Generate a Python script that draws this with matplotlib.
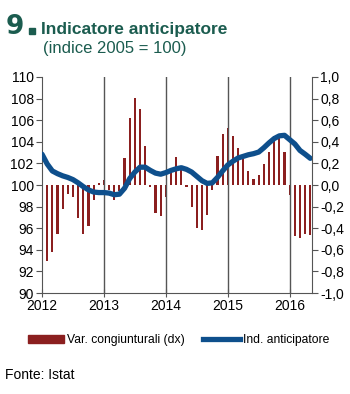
import matplotlib.pyplot as plt
import numpy as np
from matplotlib.patches import Patch, Rectangle
from matplotlib.lines import Line2D

plt.rcParams['font.family'] = ['Liberation Sans', 'DejaVu Sans']

# monthly data, Jan 2012 - Apr 2016
years = [2012, 2013, 2014, 2015, 2016]

# Var. congiunturali (dx), one bar per month
var_cong = [-0.70, -0.62, -0.45, -0.22, -0.08, -0.11, -0.31, -0.45, -0.38, -0.14, 0.02, 0.05,
            -0.05, -0.14, -0.06, 0.25, 0.62, 0.81, 0.70, 0.36, -0.02, -0.26, -0.29, -0.11,
            0.12, 0.26, 0.15, -0.02, -0.20, -0.40, -0.42, -0.28, -0.05, 0.27, 0.47, 0.53,
            0.45, 0.34, 0.24, 0.13, 0.06, 0.09, 0.19, 0.31, 0.45, 0.47, 0.31, -0.09,
            -0.47, -0.49, -0.45, -0.46]

# Ind. anticipatore (sx), from Dec 2011
ind_ant = [102.85, 101.95, 101.3, 101.05, 100.85, 100.7, 100.5, 100.2, 99.85, 99.55, 99.35, 99.3,
           99.3, 99.25, 99.1, 99.15, 99.7, 100.6, 101.2, 101.65, 101.65, 101.35, 101.1, 101.0,
           101.15, 101.35, 101.5, 101.6, 101.45, 101.2, 100.8, 100.4, 100.15, 100.2, 100.7, 101.3,
           101.85, 102.2, 102.5, 102.65, 102.8, 102.9, 103.05, 103.45, 103.9, 104.3, 104.55, 104.6,
           104.2, 103.8, 103.2, 102.85, 102.47]

red = '#8B1F1F'
blue = '#0E4F8C'
green = '#1B5C4F'

fig = plt.figure(figsize=(3.5, 3.94), dpi=100)
ax = fig.add_axes([0.12, 0.2563, 0.771, 0.5483])
ax2 = ax.twinx()

x_bar = np.arange(1, len(var_cong) + 1)
x_line = np.arange(0, len(ind_ant))

ax2.bar(x_bar, var_cong, width=0.42, color=red, zorder=2)
ax.plot(x_line, ind_ant, color=blue, lw=3.8, solid_capstyle='round', zorder=5)
ax.set_zorder(ax2.get_zorder() + 1)
ax.patch.set_visible(False)

year_pos = [(y - 2012) * 12 for y in years]
for p in year_pos[1:]:
    ax.axvline(p, color='#555555', lw=1, zorder=1)

ax.set_xlim(0, 52.3)
ax.set_ylim(90, 110)
ax2.set_ylim(-1, 1)
ax.set_yticks(np.arange(90, 111, 2))
ax2.set_yticks(np.arange(-1, 1.01, 0.2))
ax2.set_yticklabels([('%.1f' % v).replace('.', ',').replace('-0,0', '0,0') for v in np.arange(-1, 1.01, 0.2)])
ax.set_xticks(year_pos)
ax.set_xticklabels([str(y) for y in years])

for a in (ax, ax2):
    a.spines['top'].set_visible(False)
    a.spines['left'].set_color('#555555')
    a.spines['right'].set_color('#555555')
    a.spines['bottom'].set_color('#555555')
    a.tick_params(labelsize=10, length=4, color='#555555', pad=2)
ax.spines['right'].set_visible(False)
ax2.spines['left'].set_visible(False)
ax2.spines['bottom'].set_visible(False)
ax.tick_params(axis='x', direction='inout', length=6, pad=1)

# title
fig.text(0.016, 0.9137, '9', fontsize=19, fontweight='bold', color=green, va='baseline',
         family=['DejaVu Sans'])
fig.patches.append(Rectangle((0.083, 0.9137), 0.0171, 0.0152, transform=fig.transFigure,
                             color=green))
fig.text(0.117, 0.9137, 'Indicatore anticipatore', fontsize=12.5, fontweight='bold', color=green,
         va='baseline')
fig.text(0.123, 0.876, '(indice 2005 = 100)', fontsize=12, color=green, va='center')

handles = [Patch(color=red), Line2D([], [], color=blue, lw=3.8)]
fig.legend(handles, ['Var. congiunturali (dx)', 'Ind. anticipatore'], loc='center',
           bbox_to_anchor=(0.51, 0.137), ncol=2, frameon=False, fontsize=8.7,
           handlelength=3.0, handleheight=0.6, handletextpad=0.3, columnspacing=1.5)

fig.text(0.015, 0.048, 'Fonte: Istat', fontsize=10, color='black', va='center')

fig.savefig('out.png', dpi=100)
